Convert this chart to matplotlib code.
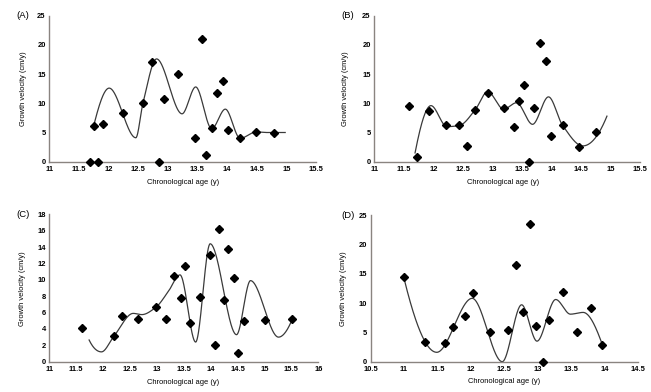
import numpy as np
import matplotlib
matplotlib.use("Agg")
import matplotlib.pyplot as plt

plt.rcParams['font.family'] = ['Liberation Sans', 'DejaVu Sans']

# ---------------- data ----------------
# Panel A
a_x = [11.69, 11.82, 11.75, 11.90, 12.24, 12.58, 12.73, 12.85, 12.94, 13.17,
       13.45, 13.58, 13.65, 13.74, 13.83, 13.93, 14.02, 14.22, 14.49, 14.79]
a_y = [0.0, 0.0, 6.06, 6.46, 8.4, 10.0, 17.1, 0.0, 10.7, 15.0,
       4.0, 21.06, 1.2, 5.77, 11.7, 13.9, 5.48, 4.0, 5.14, 4.97]
a_fit_x = [11.76, 12.01, 12.46, 12.58, 12.81, 13.24, 13.47, 13.74, 13.97, 14.22, 14.49, 14.66, 14.98]
a_fit_y = [6.6, 12.6, 4.1, 10.0, 17.6, 8.2, 12.8, 5.65, 9.0, 4.0, 5.1, 5.0, 5.0]

# Panel B
b_x = [11.59, 11.72, 11.92, 12.22, 12.44, 12.57, 12.71, 12.92, 13.19, 13.36,
       13.45, 13.54, 13.62, 13.71, 13.81, 13.90, 13.99, 14.19, 14.46, 14.76]
b_y = [9.59, 0.75, 8.68, 6.23, 6.28, 2.69, 8.9, 11.7, 9.14, 5.89,
       10.4, 13.2, 0.0, 9.25, 20.4, 17.2, 4.4, 6.23, 2.57, 5.03]
b_fit_x = [11.69, 11.96, 12.23, 12.44, 12.71, 12.92, 13.19, 13.41, 13.68, 13.95, 14.19, 14.53, 14.94]
b_fit_y = [1.5, 9.6, 6.0, 6.2, 8.9, 12.0, 9.0, 10.1, 6.4, 11.1, 6.2, 2.7, 7.8]

# Panel C
c_x = [11.60, 12.20, 12.35, 12.65, 12.98, 13.16, 13.32, 13.44, 13.52, 13.61,
       13.81, 13.99, 14.08, 14.16, 14.24, 14.33, 14.43, 14.51, 14.61, 15.01, 15.52]
c_y = [4.08, 3.1, 5.62, 5.21, 6.64, 5.21, 10.5, 7.81, 11.65, 4.73,
       7.86, 13.03, 2.08, 16.2, 7.53, 13.72, 10.22, 1.03, 5.0, 5.05, 5.25]
c_fit_x = [11.74, 11.97, 12.20, 12.56, 12.72, 12.98, 13.21, 13.43, 13.72, 13.99, 14.48, 14.74, 15.26, 15.52]
c_fit_y = [2.65, 1.2, 3.1, 5.9, 5.75, 6.64, 8.55, 10.6, 2.4, 14.4, 3.3, 9.9, 3.0, 5.25]

# Panel D
d_x = [11.00, 11.31, 11.62, 11.74, 11.91, 12.03, 12.29, 12.56, 12.67, 12.78,
       12.89, 12.98, 13.08, 13.17, 13.38, 13.59, 13.80, 13.97]
d_y = [14.43, 3.36, 3.13, 5.97, 7.79, 11.7, 5.12, 5.4, 16.48, 8.52,
       23.5, 6.08, 0.0, 7.1, 11.8, 5.12, 9.15, 2.84]
d_fit_x = [11.00, 11.49, 12.02, 12.47, 12.76, 12.99, 13.27, 13.49, 13.68, 13.97]
d_fit_y = [14.2, 1.6, 10.8, 0.0, 9.7, 3.5, 10.6, 8.1, 8.4, 2.84]

# ticks
ab_xticks = [11, 11.5, 12, 12.5, 13, 13.5, 14, 14.5, 15, 15.5]
ab_xlabels = ["11", "11.5", "12", "12.5", "13", "13.5", "14", "14.5", "15", "15.5"]
c_xticks = [11, 11.5, 12, 12.5, 13, 13.5, 14, 14.5, 15, 15.5, 16]
c_xlabels = ["11", "11.5", "12", "12.5", "13", "13.5", "14", "14.5", "15", "15.5", "16"]
d_xticks = [10.5, 11, 11.5, 12, 12.5, 13, 13.5, 14, 14.5]
d_xlabels = ["10.5", "11", "11.5", "12", "12.5", "13", "13.5", "14", "14.5"]
y25_ticks = [0, 5, 10, 15, 20, 25]
y18_ticks = [0, 2, 4, 6, 8, 10, 12, 14, 16, 18]

panel_names = ["(A)", "(B)", "(C)", "(D)"]
xlabel_text = "Chronological age (y)"
ylabel_text = "Growth velocity (cm/y)"


def pchip(x, y, xs):
    x = np.asarray(x, float)
    y = np.asarray(y, float)
    h = np.diff(x)
    d = np.diff(y) / h
    n = len(x)
    m = np.zeros(n)
    for k in range(1, n - 1):
        if d[k - 1] * d[k] <= 0:
            m[k] = 0.0
        else:
            w1 = 2 * h[k] + h[k - 1]
            w2 = h[k] + 2 * h[k - 1]
            m[k] = (w1 + w2) / (w1 / d[k - 1] + w2 / d[k])

    def end(h0, h1, d0, d1):
        mm = ((2 * h0 + h1) * d0 - h0 * d1) / (h0 + h1)
        if np.sign(mm) != np.sign(d0):
            mm = 0.0
        elif np.sign(d0) != np.sign(d1) and abs(mm) > abs(3 * d0):
            mm = 3 * d0
        return mm

    m[0] = end(h[0], h[1], d[0], d[1])
    m[-1] = end(h[-1], h[-2], d[-1], d[-2])
    idx = np.clip(np.searchsorted(x, xs) - 1, 0, n - 2)
    t = (xs - x[idx]) / h[idx]
    h00 = 2 * t**3 - 3 * t**2 + 1
    h10 = t**3 - 2 * t**2 + t
    h01 = -2 * t**3 + 3 * t**2
    h11 = t**3 - t**2
    return h00 * y[idx] + h10 * h[idx] * m[idx] + h01 * y[idx + 1] + h11 * h[idx] * m[idx + 1]


W, H = 651, 392
fig = plt.figure(figsize=(W / 100, H / 100), dpi=100)


def px_axes(left, top, right, bottom):
    return fig.add_axes([left / W, 1 - bottom / H, (right - left) / W, (bottom - top) / H])


panels = [
    dict(box=(49.3, 15.7, 316.0, 161.7), x=a_x, y=a_y, fx=a_fit_x, fy=a_fit_y,
         xt=ab_xticks, xl=ab_xlabels, xlim=(11, 15.5), yt=y25_ticks, ylim=(0, 25),
         name=(16, 15.5), xlab=(182.7, 182.7), ylab=(23.3, 88.5)),
    dict(box=(374.3, 15.7, 640.0, 161.7), x=b_x, y=b_y, fx=b_fit_x, fy=b_fit_y,
         xt=ab_xticks, xl=ab_xlabels, xlim=(11, 15.5), yt=y25_ticks, ylim=(0, 25),
         name=(341, 16), xlab=(503.3, 182.7), ylab=(345.7, 88.5)),
    dict(box=(49.3, 214.3, 318.3, 361.7), x=c_x, y=c_y, fx=c_fit_x, fy=c_fit_y,
         xt=c_xticks, xl=c_xlabels, xlim=(11, 16), yt=y18_ticks, ylim=(0, 18),
         name=(16, 214.3), xlab=(182.7, 382.7), ylab=(22.3, 289)),
    dict(box=(370.6, 215.0, 637.9, 361.7), x=d_x, y=d_y, fx=d_fit_x, fy=d_fit_y,
         xt=d_xticks, xl=d_xlabels, xlim=(10.5, 14.5), yt=y25_ticks, ylim=(0, 25),
         name=(341, 215), xlab=(504.3, 381.5), ylab=(343.7, 288.5)),
]

for p, nm in zip(panels, panel_names):
    ax = px_axes(*p["box"])
    xs = np.linspace(p["fx"][0], p["fx"][-1], 600)
    ax.plot(xs, pchip(p["fx"], p["fy"], xs), color="#3a3a3a", lw=0.9, zorder=2,
            clip_on=False)
    ax.plot(p["x"], p["y"], linestyle="none", marker="D", markersize=4.0,
            color="black", zorder=3, clip_on=False)
    ax.set_xlim(*p["xlim"])
    ax.set_ylim(*p["ylim"])
    ax.set_xticks(p["xt"])
    ax.set_xticklabels(p["xl"])
    ax.set_yticks(p["yt"])
    ax.set_yticklabels([str(v) for v in p["yt"]])
    for s in ["top", "right"]:
        ax.spines[s].set_visible(False)
    for s in ["left", "bottom"]:
        ax.spines[s].set_color("#8a8480")
        ax.spines[s].set_linewidth(1.0)
    ax.tick_params(length=0, labelsize=5.4, colors="black")
    ax.tick_params(axis="x", pad=3.4)
    ax.tick_params(axis="y", pad=2.6)
    for lab in ax.get_xticklabels() + ax.get_yticklabels():
        lab.set_fontweight("bold")
    ax.patch.set_alpha(0)
    fig.text(p["name"][0] / W, 1 - p["name"][1] / H, nm, fontsize=6.8,
             ha="left", va="center")
    fig.text(p["xlab"][0] / W, 1 - p["xlab"][1] / H, xlabel_text, fontsize=5.4,
             ha="center", va="center")
    fig.text(p["ylab"][0] / W, 1 - p["ylab"][1] / H, ylabel_text, fontsize=5.4,
             ha="center", va="center", rotation=90)

fig.savefig("out.png", dpi=100)
